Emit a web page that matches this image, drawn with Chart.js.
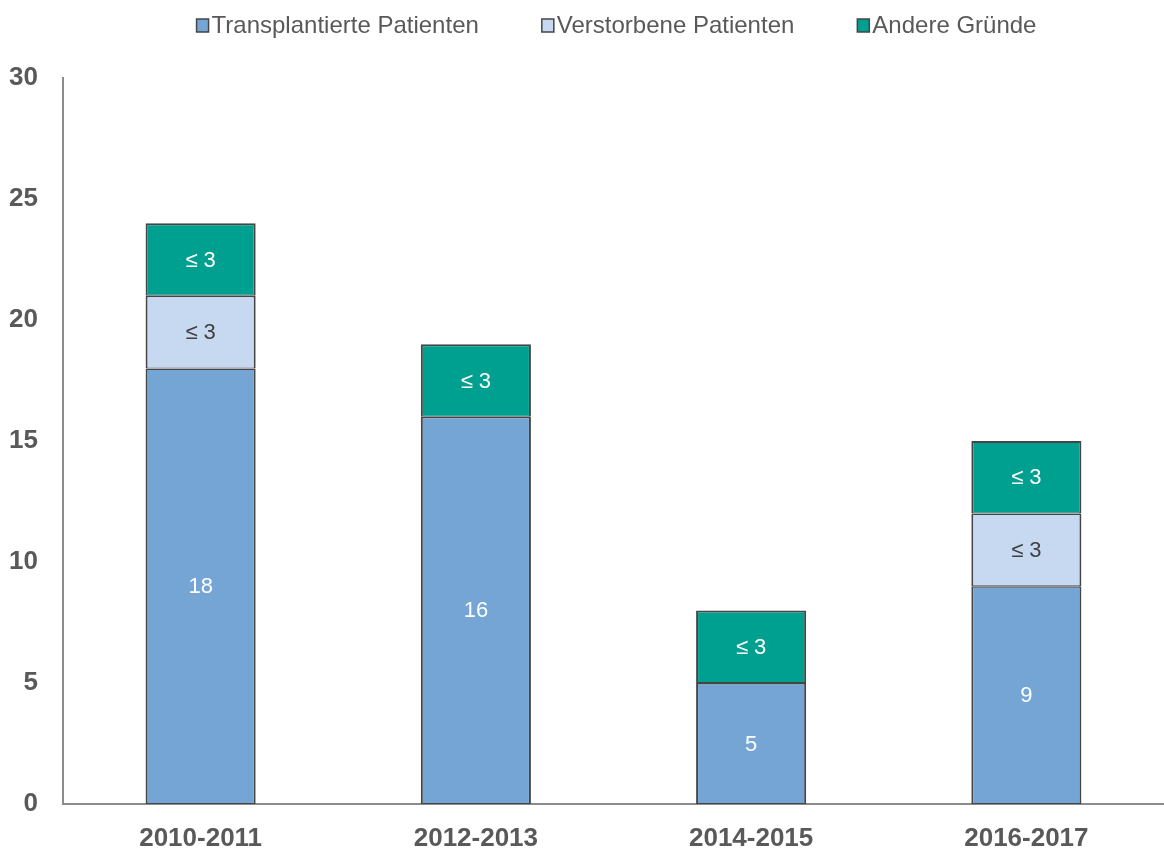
<!DOCTYPE html>
<html>
<head>
<meta charset="utf-8">
<script src="https://cdn.jsdelivr.net/npm/chart.js@4/dist/chart.umd.min.js"></script>
<style>
  body { margin: 0; background: #fff; }
  canvas { display: block; }
</style>
</head>
<body>
<canvas id="wartelisteChart" width="1164" height="849"></canvas>
<script>
const CATEGORIES = ['2010-2011', '2012-2013', '2014-2015', '2016-2017'];

const TRANSPLANTIERT = [18, 16, 5, 9];
const VERSTORBEN = [3, null, null, 3];
const ANDERE = [3, 3, 3, 3];

// labels shown inside the segments (small counts are masked)
const TRANSPLANTIERT_LABELS = ['18', '16', '5', '9'];
const VERSTORBEN_LABELS = ['≤ 3', '', '', '≤ 3'];
const ANDERE_LABELS = ['≤ 3', '≤ 3', '≤ 3', '≤ 3'];

const FONT = "'Liberation Sans', Arial, sans-serif";
const TEXT_COLOR = '#595959';
const BORDER_COLOR = '#454545';
const AXIS_COLOR = '#8c8c8c';

const segmentLabels = {
  id: 'segmentLabels',
  afterDatasetsDraw(chart) {
    const { ctx } = chart;
    ctx.save();
    ctx.font = `22px ${FONT}`;
    ctx.textAlign = 'center';
    ctx.textBaseline = 'middle';
    chart.data.datasets.forEach((ds, i) => {
      const meta = chart.getDatasetMeta(i);
      meta.data.forEach((bar, j) => {
        const text = ds.segmentLabels[j];
        if (!text || ds.data[j] == null) return;
        ctx.fillStyle = ds.labelColor;
        ctx.fillText(text, bar.x, (bar.y + bar.base) / 2 + 1);
      });
    });
    ctx.restore();
  },
};

// Excel-like legend: small boxes, tight text, wide gaps between items
const topLegend = {
  id: 'topLegend',
  afterDraw(chart) {
    const { ctx, chartArea } = chart;
    const box = 12, gap = 3, itemGap = 63, y = 25;
    ctx.save();
    ctx.font = `24px ${FONT}`;
    ctx.textBaseline = 'middle';
    const items = chart.data.datasets.map(ds => ({
      ds,
      w: box + gap + ctx.measureText(ds.label).width,
    }));
    const total = items.reduce((s, it) => s + it.w, 0) + itemGap * (items.length - 1);
    let x = (chartArea.left + chartArea.right) / 2 - total / 2 + 3;
    items.forEach(({ ds, w }) => {
      ctx.fillStyle = ds.backgroundColor;
      ctx.fillRect(x, y - 6, box, 13);
      ctx.strokeStyle = BORDER_COLOR;
      ctx.lineWidth = 1.5;
      ctx.strokeRect(x, y - 6, box, 13);
      ctx.fillStyle = TEXT_COLOR;
      ctx.fillText(ds.label, x + box + gap, y + 1);
      x += w + itemGap;
    });
    ctx.restore();
  },
};

const ctx = document.getElementById('wartelisteChart').getContext('2d');

new Chart(ctx, {
  type: 'bar',
  data: {
    labels: CATEGORIES,
    datasets: [
      {
        label: 'Transplantierte Patienten',
        data: TRANSPLANTIERT,
        segmentLabels: TRANSPLANTIERT_LABELS,
        labelColor: '#ffffff',
        backgroundColor: '#75a5d4',
        borderWidth: { top: 1.5, bottom: 1, left: 2, right: 2 },
      },
      {
        label: 'Verstorbene Patienten',
        data: VERSTORBEN,
        segmentLabels: VERSTORBEN_LABELS,
        labelColor: '#404040',
        backgroundColor: '#c6d9f0',
        borderWidth: { top: 1.5, bottom: 1, left: 2, right: 2 },
      },
      {
        label: 'Andere Gründe',
        data: ANDERE,
        segmentLabels: ANDERE_LABELS,
        labelColor: '#ffffff',
        backgroundColor: '#00a090',
        borderWidth: { top: 2, bottom: 1, left: 2, right: 2 },
      },
    ].map(ds => ({
      ...ds,
      borderColor: BORDER_COLOR,
      borderSkipped: false,
      barPercentage: 0.4,
      categoryPercentage: 1,
    })),
  },
  options: {
    responsive: false,
    animation: false,
    layout: { padding: { top: 78, right: 0, bottom: 0, left: 0 } },
    plugins: {
      tooltip: { enabled: false },
      legend: { display: false },
    },
    scales: {
      x: {
        stacked: true,
        grid: { display: false, drawTicks: false },
        border: { color: AXIS_COLOR, width: 2 },
        ticks: {
          font: { family: FONT, size: 26, weight: 'bold' },
          color: TEXT_COLOR,
          padding: 19,
        },
        afterFit(scale) { scale.height = 45; },
      },
      y: {
        stacked: true,
        min: 0,
        max: 30,
        grid: { display: false, drawTicks: false },
        border: { color: AXIS_COLOR, width: 2 },
        ticks: {
          stepSize: 5,
          font: { family: FONT, size: 26, weight: 'bold' },
          color: TEXT_COLOR,
          padding: 25,
        },
        afterFit(scale) { scale.width = 63; },
      },
    },
  },
  plugins: [segmentLabels, topLegend],
});
</script>
</body>
</html>
